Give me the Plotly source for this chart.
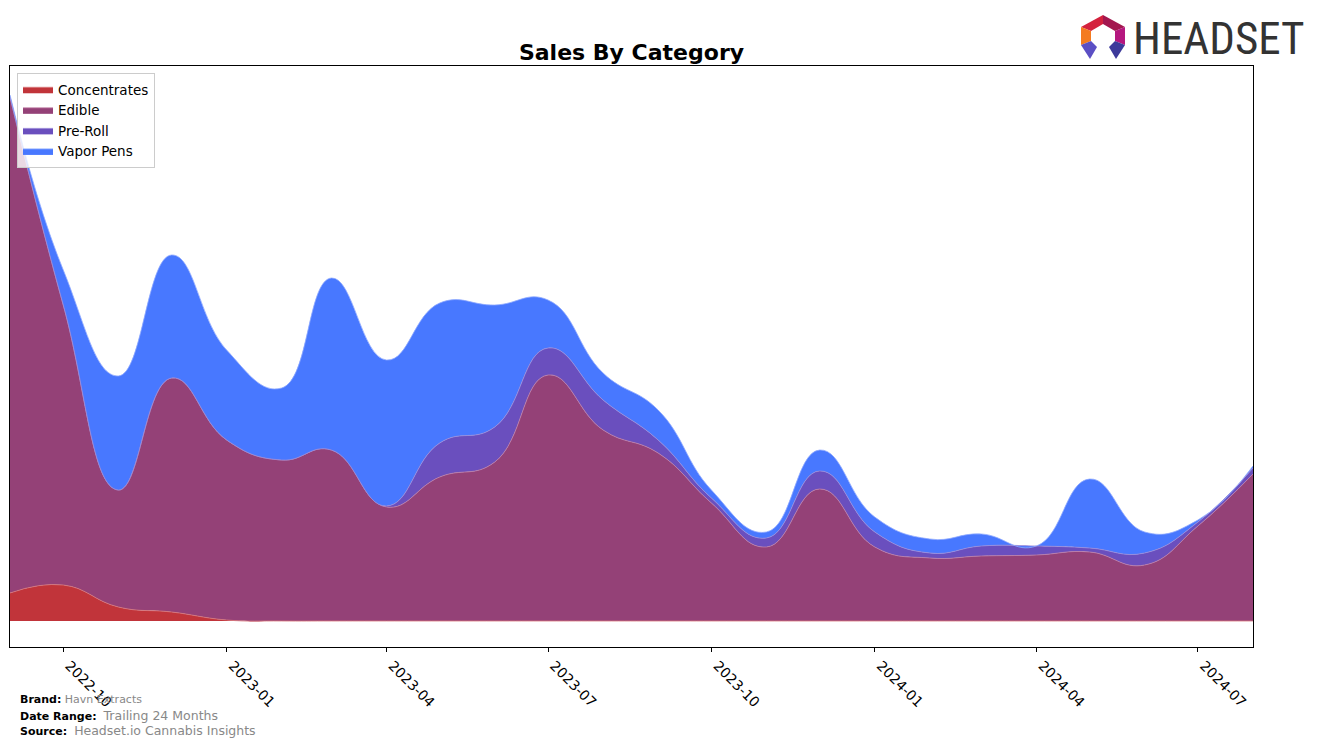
import plotly.graph_objects as go

months = ["2022-09-01", "2022-10-01", "2022-11-01", "2022-12-01", "2023-01-01", "2023-02-01",
          "2023-03-01", "2023-04-01", "2023-05-01", "2023-06-01", "2023-07-01", "2023-08-01",
          "2023-09-01", "2023-10-01", "2023-11-01", "2023-12-01", "2024-01-01", "2024-02-01",
          "2024-03-01", "2024-04-01", "2024-05-01", "2024-06-01", "2024-07-01", "2024-08-01"]

concentrates = [28, 36, 14, 9, 1, 0, 0, 0, 0, 0, 0, 0, 0, 0, 0, 0, 0, 0, 0, 0, 0, 0, 0, 0]
edible = [496, 280, 117, 234, 180, 161, 171, 114, 144, 159, 246, 191, 168, 118, 74, 132, 74, 63, 65, 66, 69, 56, 95, 147]
pre_roll = [0, 0, 0, 0, 0, 0, 0, 1, 34, 35, 27, 30, 13, 5, 9, 18, 15, 5, 10, 9, 4, 12, 4, 6]
vapor_pens = [2, 35, 114, 123, 90, 72, 172, 146, 140, 122, 48, 27, 30, 8, 6, 21, 15, 14, 12, 0, 69, 21, 2, 2]

series = [
    ("Concentrates", concentrates, "#C1343A", "#D9777B"),
    ("Edible", edible, "#944177", "#C07FA6"),
    ("Pre-Roll", pre_roll, "#6A4FBE", "#9D8BD8"),
    ("Vapor Pens", vapor_pens, "#4878FF", "#8FAAFF"),
]

tick_vals = ["2022-10-01", "2023-01-01", "2023-04-01", "2023-07-01",
             "2023-10-01", "2024-01-01", "2024-04-01", "2024-07-01"]
tick_text = ["2022-10", "2023-01", "2023-04", "2023-07", "2023-10", "2024-01", "2024-04", "2024-07"]

fig = go.Figure()
for name, vals, col, edge in series:
    fig.add_trace(go.Scatter(
        x=months, y=vals, name=name, mode="lines",
        stackgroup="one", fillcolor=col,
        line=dict(color=edge, width=0.8, shape="spline", smoothing=1.3),
        hoverinfo="x+y+name",
    ))

W, H = 1317, 746
L, R, T, B = 10, 1253, 66, 647


def px(x):
    return (x - L) / (R - L)


def py(y):
    return (B - y) / (B - T)


fig.update_layout(
    width=W, height=H,
    margin=dict(l=L, r=W - R, t=T, b=H - B),
    paper_bgcolor="white", plot_bgcolor="white",
    font=dict(family="DejaVu Sans", color="black"),
    title=dict(text="<b>Sales By Category</b>", xref="paper", x=px(631.5), xanchor="center",
               yref="container", y=1 - 52 / H, yanchor="middle",
               font=dict(size=22, family="DejaVu Sans")),
    showlegend=True,
    legend=dict(x=px(17), y=py(73), xanchor="left", yanchor="top",
                bgcolor="rgba(255,255,255,0.8)", bordercolor="#CCCCCC", borderwidth=1,
                font=dict(size=13.5, family="DejaVu Sans"), traceorder="normal",
                tracegroupgap=0),
    xaxis=dict(range=["2022-09-01", "2024-08-01"], tickvals=tick_vals, ticktext=tick_text,
               tickangle=45, ticks="outside", ticklen=4, tickcolor="black",
               ticklabelshift=6,
               tickfont=dict(size=14, family="DejaVu Sans"),
               showline=True, linecolor="black", linewidth=1, mirror=True,
               showgrid=False, zeroline=False),
    yaxis=dict(range=[-26, 555], showticklabels=False, ticks="",
               showline=True, linecolor="black", linewidth=1, mirror=True,
               showgrid=False, zeroline=False),
)

# Footer
footer = [
    (699, "<b>Brand:</b> <span style='color:#888888'>Havn Extracts</span>"),
    (715, "<b>Date Range:</b>  <span style='color:#888888;font-size:12.5px'>Trailing 24 Months</span>"),
    (730, "<b>Source:</b>  <span style='color:#888888;font-size:12.5px'>Headset.io Cannabis Insights</span>"),
]
for yy, txt in footer:
    fig.add_annotation(text=txt, xref="paper", yref="paper", x=px(18), y=py(yy),
                       xanchor="left", yanchor="middle", showarrow=False,
                       font=dict(size=11, family="DejaVu Sans", color="black"))

# Logo text
fig.add_annotation(text="HEADSET", xref="paper", yref="paper", x=px(1131), y=py(38),
                   xanchor="left", yanchor="middle", showarrow=False,
                   font=dict(size=45, family="Liberation Sans Narrow, Roboto Condensed, DejaVu Sans Condensed",
                             color="#333333"))

# Logo icon
pieces = [
    ([(1103, 15), (1081, 27), (1091, 31), (1103, 24)], "#D4213D"),
    ([(1103, 15), (1125, 27), (1115, 31), (1103, 24)], "#A3174F"),
    ([(1081, 27), (1081, 45), (1091, 41), (1091, 31)], "#F47B20"),
    ([(1125, 27), (1125, 45), (1115, 41), (1115, 31)], "#B5177F"),
    ([(1081, 45), (1091, 41), (1097, 47), (1090, 59)], "#5B4FC4"),
    ([(1125, 45), (1115, 41), (1109, 47), (1116, 59)], "#3D3A9A"),
]
for pts, col in pieces:
    path = "M " + " L ".join(f"{px(a):.5f},{py(b):.5f}" for a, b in pts) + " Z"
    fig.add_shape(type="path", path=path, xref="paper", yref="paper",
                  fillcolor=col, line=dict(width=0), layer="above")

fig.write_html("out.html")
